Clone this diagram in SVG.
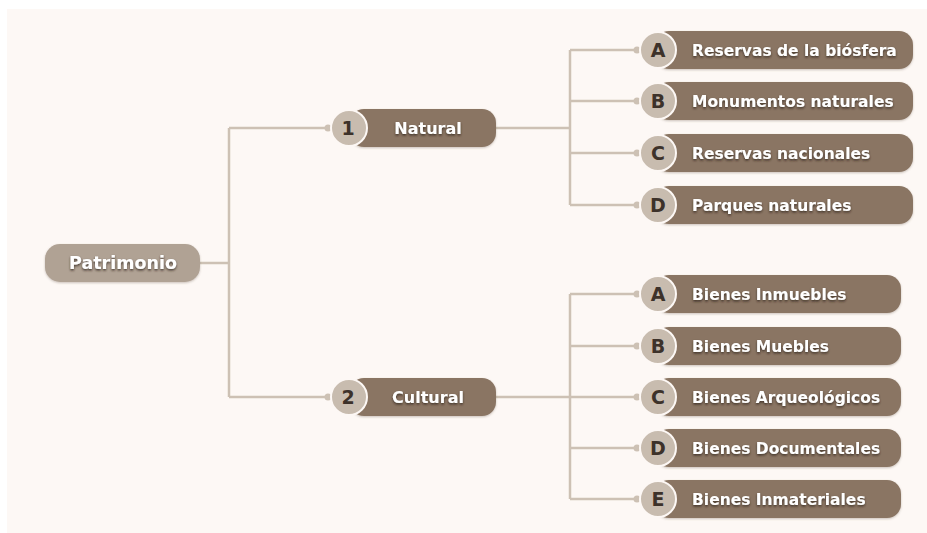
<svg xmlns="http://www.w3.org/2000/svg" width="927" height="533" viewBox="0 0 927 533">
<defs>
<filter id="ts" x="-20%" y="-40%" width="140%" height="180%">
<feDropShadow dx="0" dy="1.5" stdDeviation="1.3" flood-color="#2b2018" flood-opacity="0.8"/>
</filter>
<filter id="bs" x="-10%" y="-20%" width="120%" height="150%">
<feDropShadow dx="0" dy="1" stdDeviation="1" flood-color="#6b5a4a" flood-opacity="0.35"/>
</filter>
</defs>
<style>
.pill{fill:#8a7563;filter:url(#bs)}
.root{fill:#b0a294;filter:url(#bs)}
.circ{fill:#c8bcaf;stroke:#fdf8f5;stroke-width:2}
.dot{fill:#cdc1b4}
.lbl{font-family:"DejaVu Sans","Open Sans",sans-serif;font-weight:bold;font-size:15.5px;fill:#ffffff;filter:url(#ts)}
.big{font-size:17.5px}
.mid{font-size:16px}
.ltr{font-family:"DejaVu Sans","Open Sans",sans-serif;font-weight:bold;font-size:19px;fill:#3d322a;text-anchor:middle}
.con{fill:none;stroke:#cdc1b4;stroke-width:2.5}
</style>
<rect x="0" y="0" width="927" height="533" fill="#ffffff"/>
<rect x="7" y="9" width="920" height="524" fill="#fdf8f5"/>
<g id="connectors">
<path class="con" d="M200,263 H229 M229,128 V397 M229,128 H330 M229,397 H330"/>
<path class="con" d="M496,128 H570 M570,50 V205 M570,50 H640 M570,101 H640 M570,153 H640 M570,205 H640"/>
<path class="con" d="M496,397 H570 M570,294 V499 M570,294 H640 M570,346 H640 M570,397 H640 M570,448 H640 M570,499 H640"/>
<circle class="dot" cx="328" cy="128" r="3.5"/>
<circle class="dot" cx="328" cy="397" r="3.5"/>
<circle class="dot" cx="637" cy="50" r="3.5"/>
<circle class="dot" cx="637" cy="101" r="3.5"/>
<circle class="dot" cx="637" cy="153" r="3.5"/>
<circle class="dot" cx="637" cy="205" r="3.5"/>
<circle class="dot" cx="637" cy="294" r="3.5"/>
<circle class="dot" cx="637" cy="346" r="3.5"/>
<circle class="dot" cx="637" cy="397" r="3.5"/>
<circle class="dot" cx="637" cy="448" r="3.5"/>
<circle class="dot" cx="637" cy="499" r="3.5"/>
</g>
<g id="patrimonio">
<rect class="root" x="45" y="244" width="155" height="38" rx="15"/>
<text class="lbl big" x="123" y="269" text-anchor="middle">Patrimonio</text>
</g>
<g id="natural">
<rect class="pill" x="350" y="109" width="146" height="38" rx="14"/>
<circle class="circ" cx="349" cy="128" r="18"/>
<text class="ltr" x="348" y="135">1</text>
<text class="lbl mid" x="428" y="134" text-anchor="middle">Natural</text>
</g>
<g id="cultural">
<rect class="pill" x="350" y="378" width="146" height="38" rx="14"/>
<circle class="circ" cx="349" cy="397" r="18"/>
<text class="ltr" x="348" y="404">2</text>
<text class="lbl mid" x="428" y="403" text-anchor="middle">Cultural</text>
</g>
<g id="n-a">
<rect class="pill" x="655" y="31" width="258" height="38" rx="14"/>
<circle class="circ" cx="658" cy="50" r="18"/>
<text class="ltr" x="658" y="57">A</text>
<text class="lbl" x="692" y="56">Reservas de la biósfera</text>
</g>
<g id="n-b">
<rect class="pill" x="655" y="82" width="258" height="38" rx="14"/>
<circle class="circ" cx="658" cy="101" r="18"/>
<text class="ltr" x="658" y="108">B</text>
<text class="lbl" x="692" y="107">Monumentos naturales</text>
</g>
<g id="n-c">
<rect class="pill" x="655" y="134" width="258" height="38" rx="14"/>
<circle class="circ" cx="658" cy="153" r="18"/>
<text class="ltr" x="658" y="160">C</text>
<text class="lbl" x="692" y="159">Reservas nacionales</text>
</g>
<g id="n-d">
<rect class="pill" x="655" y="186" width="258" height="38" rx="14"/>
<circle class="circ" cx="658" cy="205" r="18"/>
<text class="ltr" x="658" y="212">D</text>
<text class="lbl" x="692" y="211">Parques naturales</text>
</g>
<g id="c-a">
<rect class="pill" x="655" y="275" width="246" height="38" rx="14"/>
<circle class="circ" cx="658" cy="294" r="18"/>
<text class="ltr" x="658" y="301">A</text>
<text class="lbl" x="692" y="300">Bienes Inmuebles</text>
</g>
<g id="c-b">
<rect class="pill" x="655" y="327" width="246" height="38" rx="14"/>
<circle class="circ" cx="658" cy="346" r="18"/>
<text class="ltr" x="658" y="353">B</text>
<text class="lbl" x="692" y="352">Bienes Muebles</text>
</g>
<g id="c-c">
<rect class="pill" x="655" y="378" width="246" height="38" rx="14"/>
<circle class="circ" cx="658" cy="397" r="18"/>
<text class="ltr" x="658" y="404">C</text>
<text class="lbl" x="692" y="403">Bienes Arqueológicos</text>
</g>
<g id="c-d">
<rect class="pill" x="655" y="429" width="246" height="38" rx="14"/>
<circle class="circ" cx="658" cy="448" r="18"/>
<text class="ltr" x="658" y="455">D</text>
<text class="lbl" x="692" y="454">Bienes Documentales</text>
</g>
<g id="c-e">
<rect class="pill" x="655" y="480" width="246" height="38" rx="14"/>
<circle class="circ" cx="658" cy="499" r="18"/>
<text class="ltr" x="658" y="506">E</text>
<text class="lbl" x="692" y="505">Bienes Inmateriales</text>
</g>
</svg>
